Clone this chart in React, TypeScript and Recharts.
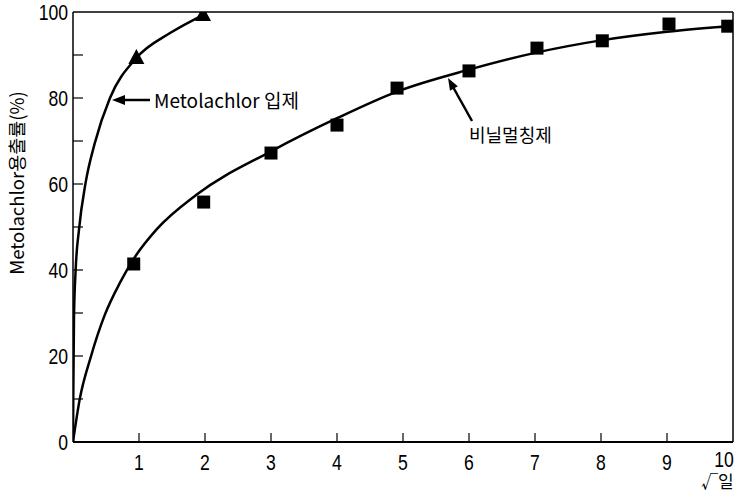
import {
  ComposedChart,
  Line,
  Scatter,
  XAxis,
  YAxis,
  ReferenceLine
} from 'recharts'

// sqrt(day) positions and release (%)
const granuleX = [0.96, 1.97]
const granuleY = [89.3, 99.3]
const filmX = [0.92, 1.98, 3.0, 4.0, 4.91, 6.0, 7.03, 8.02, 9.03, 9.92]
const filmY = [41.4, 55.8, 67.2, 73.7, 82.3, 86.3, 91.6, 93.3, 97.2, 96.7]

// fitted curves
const granuleCurveX = [0, 0.005, 0.015, 0.04, 0.09, 0.19, 0.33, 0.56, 0.96, 1.47, 1.97]
const granuleCurveY = [0, 12, 29, 40, 49.3, 60.2, 69.5, 80, 89.3, 95.1, 99.3]
const filmCurveX = [0, 0.1, 0.27, 0.48, 0.71, 0.92, 1.27, 1.87, 3, 4, 4.91, 6, 7, 8, 9, 10]
const filmCurveY = [0, 9.8, 19.8, 29.5, 37, 42.6, 49.5, 57.5, 67.6, 75.3, 81.5, 86.6, 90.5, 93.4, 95.4, 96.8]

const xTicks = [0, 1, 2, 3, 4, 5, 6, 7, 8, 9, 10]
const yTicks = [0, 10, 20, 30, 40, 50, 60, 70, 80, 90, 100]
const yLabelTicks = [0, 20, 40, 60, 80, 100]

const yLabel = 'Metolachlor용출률(%)'
const granuleLabel = 'Metolachlor 입제'
const filmLabel = '비닐멀칭제'
const xLabel = '√일'

const zip = (xs: number[], ys: number[]) => xs.map((x, i) => ({ x, y: ys[i] }))

const FONT = '"Liberation Sans", Arial, sans-serif'
const KFONT = '"Noto Sans CJK KR", "Liberation Sans", sans-serif'

function XTick(props: any) {
  const { x, y, payload } = props
  const v = payload.value
  // the last label sits against the right edge in the original
  const tx = v === 10 ? x - 9 : x
  const ty = v === 10 ? y + 25 : y + 28
  return (
    <g>
      {v > 0 && v < 10 && <line x1={x} y1={y} x2={x} y2={y - 9} stroke="#000" strokeWidth={1.2} />}
      {v > 0 && (
        <text
          transform={`translate(${tx},${ty}) scale(0.8,1)`}
          textAnchor="middle"
          fontFamily={FONT}
          fontSize={22}
          fill="#000"
        >
          {v}
        </text>
      )}
    </g>
  )
}

function YTick(props: any) {
  const { x, y, payload } = props
  const v = payload.value
  return (
    <g>
      {v > 0 && v < 100 && <line x1={x} y1={y} x2={x + 10} y2={y} stroke="#000" strokeWidth={1.2} />}
      {yLabelTicks.includes(v) && (
        <text
          transform={`translate(${x - 5},${y + 8}) scale(0.8,1)`}
          textAnchor="end"
          fontFamily={FONT}
          fontSize={22}
          fill="#000"
        >
          {v}
        </text>
      )}
    </g>
  )
}

const Triangle = (props: any) => {
  const { cx, cy } = props
  return <polygon points={`${cx},${cy - 9} ${cx - 8},${cy + 6} ${cx + 8},${cy + 6}`} fill="#000" />
}

const Square = (props: any) => {
  const { cx, cy } = props
  return <rect x={cx - 6.5} y={cy - 6.5} width={13} height={13} fill="#000" />
}

export default function App() {
  return (
    <div style={{ position: 'absolute', left: 0, top: 0, width: 735, height: 495, background: '#fff' }}>
      <ComposedChart
        width={735}
        height={495}
        margin={{ top: 12, right: 2, bottom: 0, left: 0 }}
      >
        <XAxis
          dataKey="x"
          type="number"
          domain={[0, 10]}
          ticks={xTicks}
          interval={0}
          height={53}
          tickSize={0}
          tickMargin={0}
          tick={<XTick />}
          tickLine={false}
          axisLine={{ stroke: '#000', strokeWidth: 2 }}
          allowDataOverflow
        />
        <YAxis
          type="number"
          domain={[0, 100]}
          ticks={yTicks}
          interval={0}
          width={73}
          tickSize={0}
          tickMargin={0}
          tick={<YTick />}
          tickLine={false}
          axisLine={{ stroke: '#000', strokeWidth: 1.5 }}
          allowDataOverflow
        />
        <ReferenceLine y={100} stroke="#000" strokeWidth={1.5} />
        <ReferenceLine x={10} stroke="#000" strokeWidth={1.5} />
        <Line
          data={zip(granuleCurveX, granuleCurveY)}
          dataKey="y"
          type="monotone"
          stroke="#000"
          strokeWidth={2.5}
          dot={false}
          isAnimationActive={false}
        />
        <Line
          data={zip(filmCurveX, filmCurveY)}
          dataKey="y"
          type="monotone"
          stroke="#000"
          strokeWidth={2.5}
          dot={false}
          isAnimationActive={false}
        />
        <Scatter data={zip(granuleX, granuleY)} dataKey="y" shape={<Triangle />} isAnimationActive={false} />
        <Scatter data={zip(filmX, filmY)} dataKey="y" shape={<Square />} isAnimationActive={false} />
      </ComposedChart>
      <svg
        width={735}
        height={495}
        style={{ position: 'absolute', left: 0, top: 0, pointerEvents: 'none' }}
      >
        <text
          transform="translate(24,183) rotate(-90)"
          textAnchor="middle"
          fontFamily={KFONT}
          fontSize={18.5}
          fill="#000"
        >
          {yLabel}
        </text>
        <line x1={150} y1={100} x2={122} y2={100} stroke="#000" strokeWidth={2.5} />
        <polygon points="112,100 125,95 125,105" fill="#000" />
        <text x={154} y={108} fontFamily={KFONT} fontSize={19} fill="#000">
          {granuleLabel}
        </text>
        <line x1={472} y1={121} x2={453} y2={87} stroke="#000" strokeWidth={2.5} />
        <polygon points="448,78 457.8,86.3 450,90.7" fill="#000" />
        <text x={469} y={142} fontFamily={KFONT} fontSize={18} fill="#000">
          {filmLabel}
        </text>
        <text x={701} y={488} fontFamily={KFONT} fontSize={17} fill="#000">
          {xLabel}
        </text>
      </svg>
    </div>
  )
}
